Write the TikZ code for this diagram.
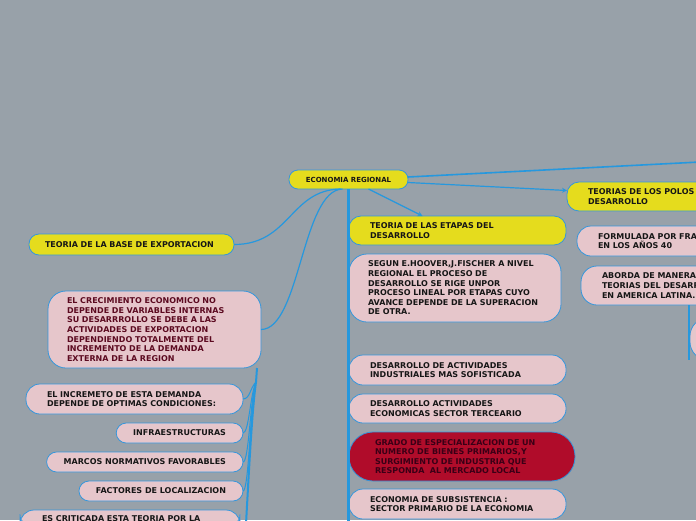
\documentclass[tikz,border=0pt]{standalone}
\usepackage{fontspec}
\setmainfont{DejaVu Sans}
\usetikzlibrary{shapes, arrows, positioning}

\definecolor{fondo}{RGB}{152,161,169}
\definecolor{amarillo}{RGB}{229,220,29}
\definecolor{rosa}{RGB}{230,198,203}
\definecolor{granate}{RGB}{176,12,42}
\definecolor{azul}{RGB}{38,152,222}
\definecolor{borde}{RGB}{52,150,220}
\definecolor{texto}{RGB}{22,22,22}
\definecolor{vino}{RGB}{92,10,32}
\definecolor{vinoosc}{RGB}{58,0,22}

\begin{document}
\begin{tikzpicture}[x=1pt, y=-1pt]

\tikzstyle{tema} = [rectangle, draw=borde, fill=amarillo, line width=0.8pt, outer sep=0pt, rounded corners=12pt, anchor=north west, align=left, text=texto, font=\fontsize{8}{9.6}\selectfont\bfseries]
\tikzstyle{idea} = [tema, fill=rosa]
\tikzstyle{linea} = [draw=azul, line width=1.2pt]
\tikzstyle{tronco} = [draw=azul, line width=2.6pt]
\tikzstyle{arrow} = [draw=azul, line width=1.2pt, ->, >=stealth]

\fill [fondo] (0,0) rectangle (696,520);
\useasboundingbox (0,0) rectangle (696,520);

\node (eco) [tema, anchor=center, align=center, minimum width=119pt, minimum height=19pt, rounded corners=9pt, font=\fontsize{7}{8}\selectfont\bfseries] at (348.5,179.5) {ECONOMIA REGIONAL};

% rama izquierda
\node (base) [tema, minimum height=21pt, text width=173pt, inner xsep=16pt, rounded corners=10pt] at (29,234) {TEORIA DE LA BASE DE EXPORTACION};

\node (crec) [idea, text=vino, minimum height=77pt, text width=175pt, inner xsep=19pt, rounded corners=18pt] at (48,291) {EL CRECIMIENTO ECONOMICO NO\\DEPENDE DE VARIABLES INTERNAS\\SU DESARRROLLO SE DEBE A LAS\\ACTIVIDADES DE EXPORTACION\\DEPENDIENDO TOTALMENTE DEL\\INCREMENTO DE LA DEMANDA\\EXTERNA DE LA REGION};

\node (incr) [idea, minimum height=30pt, text width=175pt, inner xsep=21pt, rounded corners=14pt] at (26,384) {EL INCREMETO DE ESTA DEMANDA\\DEPENDE DE OPTIMAS CONDICIONES:};

\node (infra) [idea, anchor=north east, align=center, minimum height=20pt, inner xsep=17pt, rounded corners=10pt] at (243,423) {INFRAESTRUCTURAS};

\node (marcos) [idea, below=9pt of infra.south east, anchor=north east, align=center, minimum height=20pt, inner xsep=17pt, rounded corners=10pt] {MARCOS NORMATIVOS FAVORABLES};

\node (factores) [idea, below=9pt of marcos.south east, anchor=north east, align=center, minimum height=20pt, inner xsep=17pt, rounded corners=10pt] {FACTORES DE LOCALIZACION};

\node (critica) [idea, text width=176pt, inner xsep=22pt, inner ysep=6pt, rounded corners=14pt] at (20,510) {ES CRITICADA ESTA TEORIA POR LA};

% rama central
\node (etapas) [tema, minimum height=29pt, text width=175pt, inner xsep=21pt] at (349,216) {TEORIA DE LAS ETAPAS DEL\\DESARROLLO};

\node (segun) [idea, below=9pt of etapas.south west, anchor=north west, minimum height=68pt, text width=174pt, inner xsep=19pt, rounded corners=18pt] {SEGUN E.HOOVER,J.FISCHER A NIVEL\\REGIONAL EL PROCESO DE\\DESARROLLO SE RIGE UNPOR\\PROCESO LINEAL POR ETAPAS CUYO\\AVANCE DEPENDE DE LA SUPERACION\\DE OTRA.};

\node (indus) [idea, below=33pt of segun.south west, anchor=north west, minimum height=30pt, text width=175pt, inner xsep=21pt, rounded corners=14pt] {DESARROLLO DE ACTIVIDADES\\INDUSTRIALES MAS SOFISTICADA};

\node (terc) [idea, below=9pt of indus.south west, anchor=north west, minimum height=29pt, text width=175pt, inner xsep=21pt, rounded corners=14pt] {DESARROLLO ACTIVIDADES\\ECONOMICAS SECTOR TERCEARIO};

\node (grado) [idea, fill=granate, text=vinoosc, below=9pt of terc.south west, anchor=north west, minimum height=49pt, text width=174pt, inner xsep=26pt, rounded corners=24pt] {GRADO DE ESPECIALIZACION DE UN\\NUMERO DE BIENES PRIMARIOS,Y\\SURGIMIENTO DE INDUSTRIA QUE\\RESPONDA\ \ AL MERCADO LOCAL};

\node (subs) [idea, below=8pt of grado.south west, anchor=north west, minimum height=30pt, text width=175pt, inner xsep=21pt, rounded corners=14pt] {ECONOMIA DE SUBSISTENCIA :\\SECTOR PRIMARIO DE LA ECONOMIA};

% rama derecha
\node (polos) [tema, minimum height=29pt, text width=200pt, inner xsep=21pt] at (567,182) {TEORIAS DE LOS POLOS DE\\DESARROLLO};

\node (formula) [idea, minimum height=30pt, text width=200pt, inner xsep=21pt, rounded corners=14pt] at (577,226) {FORMULADA POR FRANCOIS PERROUX\\EN LOS AÑOS 40};

\node (aborda) [idea, minimum height=39pt, text width=200pt, inner xsep=21pt, rounded corners=16pt] at (581,266) {ABORDA DE MANERA\\TEORIAS DEL DESARROLLO\\EN AMERICA LATINA.};

\node (parte) [idea, minimum width=60pt, minimum height=42pt, rounded corners=18pt] at (690,318) {};

\coordinate (fuera) at (700,162);
\coordinate (pie) at (348.5,524);
\coordinate (raiz) at (256,382);
\coordinate (raizpie) at (246,524);

\draw [linea, line width=1.6pt] ([yshift=2.5pt]eco.east) -- (fuera);
\draw [arrow] ([yshift=-3pt]eco.east) -- ([yshift=6pt]polos.west);
\draw [arrow] ([xshift=20pt]eco.south) -- ([xshift=-35pt]etapas.north);
\draw [tronco] (eco.south) -- (pie);

\draw [linea] ([xshift=-8pt]eco.south) .. controls (290,190) and (290,244.5) .. (base.east);
\draw [linea] ([xshift=-6pt]eco.south) .. controls (302,190) and (300,329.5) .. (crec.east);

\draw [linea, line width=2pt] ([xshift=-4pt]crec.south east) -- (raiz);
\draw [tronco, line width=2pt] (raiz) .. controls (252,410) and (249,470) .. (raizpie);
\draw [linea, line width=1pt] (raiz) .. controls (250,388) and (250,399) .. (incr.east);
\draw [linea, line width=1pt] (raiz) .. controls (250,395) and (249,433) .. (infra.east);
\draw [linea, line width=1pt] (raiz) .. controls (250,400) and (249,462) .. (marcos.east);
\draw [linea, line width=1pt] (raiz) .. controls (250,405) and (249,491) .. (factores.east);

\draw [linea, line width=1.5pt] ([xshift=108pt]aborda.south west) -- ([xshift=-1pt]parte.south west);

\end{tikzpicture}
\end{document}
